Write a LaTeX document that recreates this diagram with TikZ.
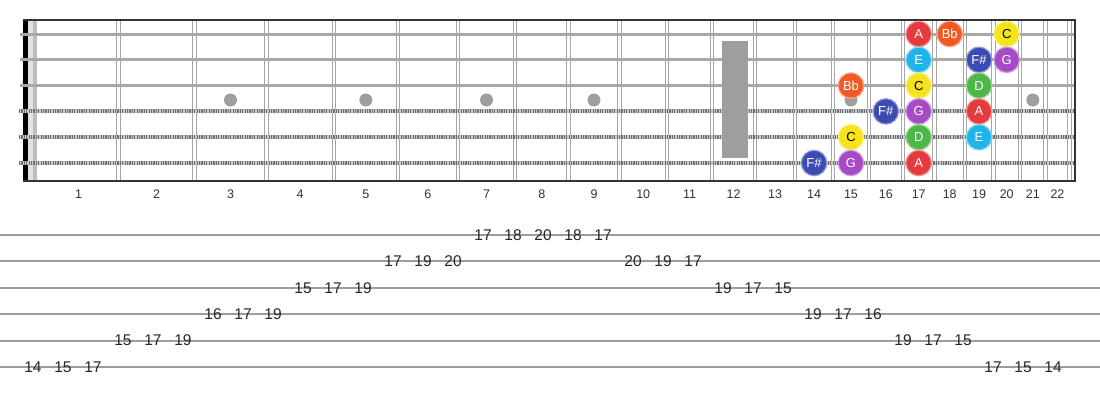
\documentclass[tikz,border=0pt]{standalone}
\usepackage{fontspec}
\setmainfont{Liberation Sans}
\definecolor{notered}{HTML}{E53A3E}
\definecolor{noteorange}{HTML}{F15A24}
\definecolor{noteyellow}{HTML}{F5E31B}
\definecolor{notecyan}{HTML}{1FB5E9}
\definecolor{noteblue}{HTML}{3B4CB0}
\definecolor{notepurple}{HTML}{A64BC6}
\definecolor{notegreen}{HTML}{4DB748}
\definecolor{strgray}{HTML}{A8A8A8}
\definecolor{strlight}{HTML}{C8C8C8}
\definecolor{strdark}{HTML}{707070}
\definecolor{fretgray}{HTML}{A6A6A6}
\definecolor{inlaygray}{HTML}{9E9E9E}
\definecolor{nutlight}{HTML}{E2E2E2}
\definecolor{nutgray}{HTML}{BDBDBD}
\definecolor{framedark}{HTML}{333333}
\definecolor{tabgray}{HTML}{9C9C9C}
\tikzset{
notedot/.style 2 args={
  circle,
  fill=#1,
  draw=#1!55!white,
  line width=1.2pt,
  minimum size=25.5pt,
  inner sep=0pt,
  text=#2,
  font=\fontsize{13}{13}\selectfont
  },
fretlabel/.style={text=black!80, text height=9pt, text depth=0pt, font=\fontsize{12.5}{13}\selectfont},
tabnum/.style={text=black!85, text height=10.5pt, text depth=0pt, font=\fontsize{15.5}{16}\selectfont},
plainstring/.style={draw=strgray, line width=3pt},
woundstring/.style={draw=strlight, line width=4pt},
windings/.style={draw=strdark, line width=4pt, dash pattern=on 1.2pt off 1.2pt},
fretwire/.style={draw=fretgray, line width=1pt},
tabline/.style={draw=tabgray, line width=2pt}
}
\newcommand{\fretx}[1]{38.6+1433*(1-pow(2,-(#1)/12))}
\newcommand{\fsharp}{F\#}

\begin{document}
\begin{tikzpicture}[x=1pt,y=-1pt]
\useasboundingbox (0,0) rectangle (1100,400);

% nut
\fill[black] (23,20) rectangle (27.5,181);
\fill[nutlight] (27.5,20) rectangle (33,181);
\fill[nutgray] (33,20) rectangle (37,181);

% frets and inlays
\foreach \n in {1,...,22}{
  \pgfmathsetmacro\fx{\fretx{\n}}
  \draw[fretwire] (\fx-1.7,20) -- (\fx-1.7,181) (\fx+1.7,20) -- (\fx+1.7,181);
}
\foreach \n in {3,5,7,9,15,21}{
  \pgfmathsetmacro\mx{(\fretx{\n-1}+\fretx{\n})/2}
  \fill[inlaygray] (\mx,100) circle (6.5);
}

% strings
\foreach \s in {1,2,3}
  \draw[plainstring] (20,{34+25.8*(\s-1)}) -- (1075,{34+25.8*(\s-1)});
\foreach \s in {4,5,6}{
  \draw[woundstring] (19,{34+25.8*(\s-1)}) -- (1075,{34+25.8*(\s-1)});
  \draw[windings] (19,{34+25.8*(\s-1)}) -- (1075,{34+25.8*(\s-1)});
}
\fill[inlaygray] (722,41) rectangle (748,158);
\draw[framedark, line width=2pt] (23,20) -- (1075,20) -- (1075,181) -- (23,181);

% fret numbers
\foreach \n in {1,...,22}{
  \pgfmathsetmacro\mx{(\fretx{\n-1}+\fretx{\n})/2}
  \node[fretlabel] (fl-\n) at (\mx,194) {\n};
}

% scale notes
\foreach \s/\f/\lab/\col/\txt in {
  1/17/A/notered/white, 1/18/Bb/noteorange/white, 1/20/C/noteyellow/black,
  2/17/E/notecyan/white, 2/19/\fsharp/noteblue/white, 2/20/G/notepurple/white,
  3/15/Bb/noteorange/white, 3/17/C/noteyellow/black, 3/19/D/notegreen/white,
  4/16/\fsharp/noteblue/white, 4/17/G/notepurple/white, 4/19/A/notered/white,
  5/15/C/noteyellow/black, 5/17/D/notegreen/white, 5/19/E/notecyan/white,
  6/14/\fsharp/noteblue/white, 6/15/G/notepurple/white, 6/17/A/notered/white}{
  \pgfmathsetmacro\mx{(\fretx{\f-1}+\fretx{\f})/2}
  \node[notedot={\col}{\txt}] (n-\s-\f) at (\mx,{34+25.8*(\s-1)}) {\lab};
}

% tab
\foreach \l in {1,...,6}
  \draw[tabline] (0,{235+26.4*(\l-1)}) -- (1100,{235+26.4*(\l-1)});
\foreach \l/\i/\v [count=\k] in {
  6/0/14, 6/1/15, 6/2/17, 5/3/15, 5/4/17, 5/5/19,
  4/6/16, 4/7/17, 4/8/19, 3/9/15, 3/10/17, 3/11/19,
  2/12/17, 2/13/19, 2/14/20, 1/15/17, 1/16/18, 1/17/20,
  1/18/18, 1/19/17, 2/20/20, 2/21/19, 2/22/17,
  3/23/19, 3/24/17, 3/25/15, 4/26/19, 4/27/17, 4/28/16,
  5/29/19, 5/30/17, 5/31/15, 6/32/17, 6/33/15, 6/34/14}
  \node[tabnum] (tab-\k) at ({33+30*\i},{235+26.4*(\l-1)}) {\v};
\end{tikzpicture}
\end{document}
